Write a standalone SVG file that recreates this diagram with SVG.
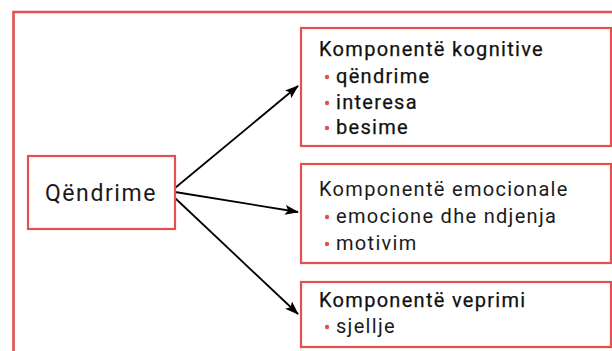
<svg xmlns="http://www.w3.org/2000/svg" width="612" height="351" viewBox="0 0 612 351">
<defs>
<style>
.box{fill:#fff;stroke:#e3504f;stroke-width:2.2}
.t{font-family:Roboto,"Liberation Sans",sans-serif;font-size:20px;fill:#1a1a1a;letter-spacing:1.3px}
.m{fill:#111;stroke:#111;stroke-width:0.25}
.b{fill:#e3504f}
.c{stroke:#000;stroke-width:1.8;fill:none;marker-end:url(#ah)}
</style>
<marker id="ah" viewBox="0 0 14 10" refX="13" refY="5" markerWidth="14" markerHeight="10" markerUnits="userSpaceOnUse" orient="auto">
<path d="M0,0 L14,5 L0,10 L3,5 z" fill="#000"/>
</marker>
</defs>
<path d="M13.5,351 V12 H612" fill="none" stroke="#e3504f" stroke-width="2.6"/>
<g id="connectors">
<line class="c" x1="175" y1="188" x2="298" y2="86"/>
<line class="c" x1="175" y1="192" x2="298" y2="212"/>
<line class="c" x1="175" y1="198" x2="298" y2="314"/>
</g>
<g id="qendrime">
<rect class="box" x="28" y="156" width="147" height="73"/>
<text class="t" x="101" y="201" text-anchor="middle" style="font-size:23px;letter-spacing:1.6px">Qëndrime</text>
</g>
<g id="kognitive">
<rect class="box" x="301" y="28" width="310" height="118"/>
<text class="t m" x="319" y="56">Komponentë kognitive</text>
<circle class="b" cx="327" cy="77" r="2.2"/>
<text class="t m" x="336" y="83">qëndrime</text>
<circle class="b" cx="327" cy="103" r="2.2"/>
<text class="t m" x="336" y="109">interesa</text>
<circle class="b" cx="327" cy="128" r="2.2"/>
<text class="t m" x="336" y="134">besime</text>
</g>
<g id="emocionale">
<rect class="box" x="301" y="164" width="310" height="99"/>
<text class="t" x="319" y="196">Komponentë emocionale</text>
<circle class="b" cx="327" cy="217" r="2.2"/>
<text class="t" x="336" y="223">emocione dhe ndjenja</text>
<circle class="b" cx="327" cy="244" r="2.2"/>
<text class="t" x="336" y="250">motivim</text>
</g>
<g id="veprimi">
<rect class="box" x="301" y="282" width="310" height="65"/>
<text class="t m" x="319" y="307">Komponentë veprimi</text>
<circle class="b" cx="327" cy="327" r="2.2"/>
<text class="t" x="336" y="333">sjellje</text>
</g>
</svg>
